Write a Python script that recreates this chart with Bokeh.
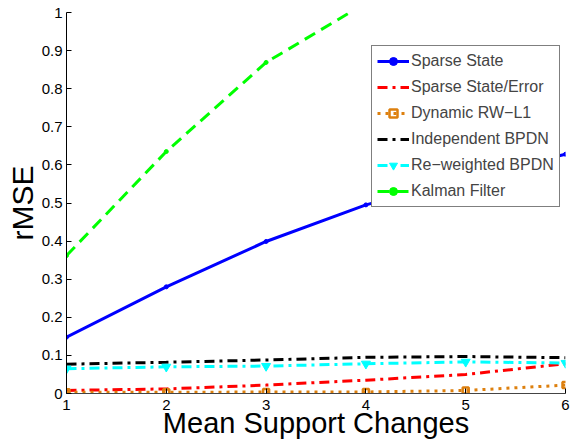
from bokeh.plotting import figure
from bokeh.models import FixedTicker, CustomJSTickFormatter, Range1d
from bokeh.embed import file_html
from bokeh.resources import INLINE

x = [1, 2, 3, 4, 5, 6]
sparse_state = [0.148, 0.280, 0.399, 0.495, 0.565, 0.628]
sparse_state_error = [0.008, 0.012, 0.022, 0.035, 0.050, 0.078]
dynamic_rwl1 = [0.003, 0.003, 0.004, 0.004, 0.008, 0.022]
independent_bpdn = [0.077, 0.082, 0.088, 0.095, 0.097, 0.094]
reweighted_bpdn = [0.065, 0.070, 0.072, 0.078, 0.083, 0.080]
kalman = [0.362, 0.635, 0.869, 1.025, 1.15, 1.25]

x_ticks = [1, 2, 3, 4, 5, 6]
y_ticks = [0, 0.1, 0.2, 0.3, 0.4, 0.5, 0.6, 0.7, 0.8, 0.9, 1]

FONT = "Liberation Sans"

p = figure(width=571, height=443, output_backend="svg", toolbar_location=None,
           x_range=Range1d(1, 6), y_range=Range1d(0, 1),
           min_border_left=66, min_border_right=6, min_border_top=12, min_border_bottom=50)
p.outline_line_color = None
p.grid.visible = False
p.background_fill_color = "white"
p.border_fill_color = "white"

series = [
    ("Sparse State", sparse_state, "#0000FF", "solid", "circle", 4),
    ("Sparse State/Error", sparse_state_error, "#FF0000", "10 5 3 5", None, 0),
    ("Dynamic RW\u2212L1", dynamic_rwl1, "#DD800F", "3 5", "square", 6),
    ("Independent BPDN", independent_bpdn, "#000000", "10 5 3 5", None, 0),
    ("Re\u2212weighted BPDN", reweighted_bpdn, "#00FFFF", "10 5 3 5", "inverted_triangle", 9),
    ("Kalman Filter", kalman, "#00FF00", "12 7", "circle", 4),
]

for name, ys, col, dash, marker, size in series:
    p.line(x, ys, line_color=col, line_width=3, line_dash=dash, legend_label=name)
    if marker is not None:
        if marker == "square":
            p.scatter(x, ys, marker=marker, size=size, fill_color=None, line_color=col,
                      line_width=2.5, legend_label=name)
        else:
            p.scatter(x, ys, marker=marker, size=size, fill_color=col, line_color=col,
                      legend_label=name)

for ax in (p.xaxis[0], p.yaxis[0]):
    ax.axis_line_color = "black"
    ax.axis_line_width = 1
    ax.major_tick_in = 5
    ax.major_tick_out = 0
    ax.minor_tick_line_color = None
    ax.major_tick_line_color = "black"
    ax.major_label_text_font = FONT
    ax.major_label_text_font_size = "15px"
    ax.major_label_text_color = "black"
    ax.axis_label_text_font = FONT
    ax.axis_label_text_font_style = "normal"
    ax.axis_label_text_color = "black"

p.xaxis.axis_line_color = "#444444"
p.xaxis.ticker = FixedTicker(ticks=x_ticks)
p.yaxis.ticker = FixedTicker(ticks=y_ticks)
p.yaxis.formatter = CustomJSTickFormatter(code="return String(Math.round(tick*10)/10);")
p.xaxis.axis_label = "Mean Support Changes"
p.yaxis.axis_label = "rMSE"
p.xaxis.axis_label_text_font_size = "29px"
p.yaxis.axis_label_text_font_size = "30px"
p.xaxis.major_label_standoff = 6
p.xaxis.axis_label_standoff = -6
p.yaxis.major_label_standoff = 4
p.yaxis.axis_label_standoff = 0

leg = p.legend[0]
leg.location = (305, 186)
leg.border_line_color = "black"
leg.border_line_width = 1.5
leg.background_fill_alpha = 1
leg.label_text_font = FONT
leg.label_text_font_size = "16px"
leg.glyph_width = 32
leg.glyph_height = 20
leg.label_height = 20
leg.spacing = 6
leg.padding = 5
leg.margin = 0
leg.label_standoff = 2

open("out.html", "w").write(file_html(p, INLINE))
